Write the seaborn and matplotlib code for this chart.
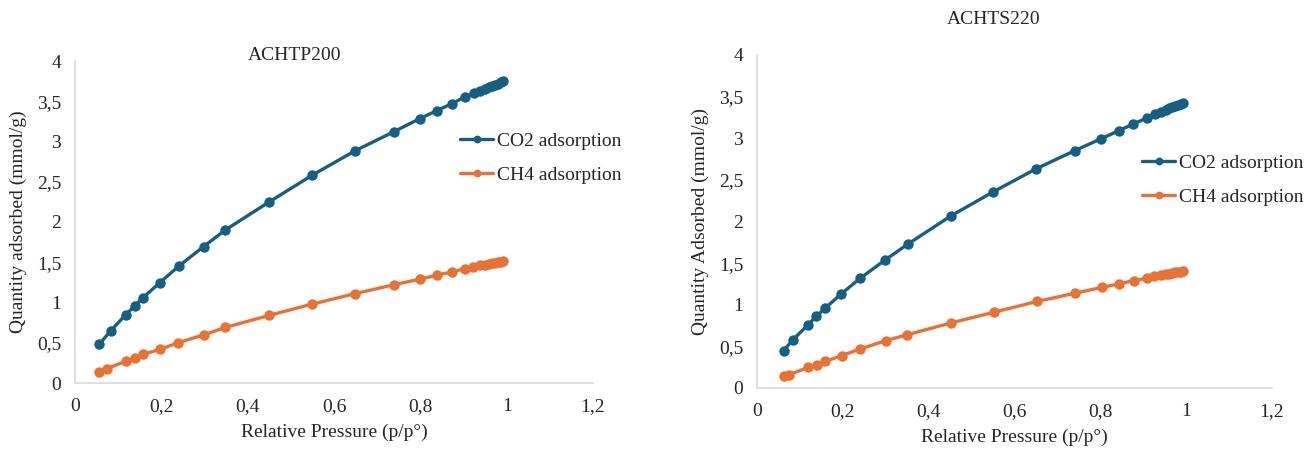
import matplotlib
matplotlib.use("Agg")
import matplotlib.pyplot as plt
import seaborn as sns
import pandas as pd

# ---------------- data ----------------
TITLES = ["ACHTP200", "ACHTS220"]
YLABELS = ["Quantity adsorbed (mmol/g)", "Quantity Adsorbed (mmol/g)"]
XLABEL = "Relative Pressure (p/p°)"
SERIES = ["CO2 adsorption", "CH4 adsorption"]

P_CO2_L = [0.056, 0.083, 0.117, 0.138, 0.158, 0.196, 0.240, 0.298, 0.348, 0.450, 0.549, 0.649, 0.738,
           0.799, 0.839, 0.873, 0.903, 0.924, 0.938, 0.950, 0.960, 0.967, 0.974, 0.980, 0.986, 0.992]
CO2_L = [0.48, 0.65, 0.845, 0.955, 1.06, 1.245, 1.45, 1.695, 1.90, 2.25, 2.58, 2.885, 3.12,
         3.285, 3.385, 3.47, 3.555, 3.60, 3.63, 3.655, 3.675, 3.69, 3.705, 3.72, 3.735, 3.75]
P_CH4_L = [0.056, 0.074, 0.118, 0.139, 0.158, 0.198, 0.239, 0.299, 0.348, 0.450, 0.549, 0.649, 0.738,
           0.799, 0.839, 0.873, 0.903, 0.922, 0.938, 0.950, 0.960, 0.967, 0.974, 0.980, 0.986, 0.992]
CH4_L = [0.135, 0.18, 0.27, 0.31, 0.355, 0.42, 0.50, 0.60, 0.69, 0.84, 0.98, 1.11, 1.22,
         1.29, 1.34, 1.38, 1.42, 1.445, 1.46, 1.47, 1.48, 1.487, 1.494, 1.50, 1.505, 1.51]

P_CO2_R = [0.062, 0.084, 0.119, 0.138, 0.158, 0.196, 0.241, 0.299, 0.352, 0.451, 0.550, 0.651, 0.740,
           0.802, 0.843, 0.876, 0.909, 0.928, 0.941, 0.952, 0.961, 0.968, 0.975, 0.981, 0.987, 0.993]
CO2_R = [0.45, 0.58, 0.76, 0.86, 0.955, 1.13, 1.32, 1.54, 1.73, 2.065, 2.355, 2.635, 2.85,
         2.995, 3.09, 3.17, 3.245, 3.29, 3.32, 3.34, 3.36, 3.375, 3.39, 3.40, 3.41, 3.42]
P_CH4_R = [0.064, 0.075, 0.120, 0.140, 0.159, 0.198, 0.241, 0.301, 0.350, 0.451, 0.552, 0.653, 0.742,
           0.805, 0.843, 0.878, 0.909, 0.926, 0.941, 0.952, 0.961, 0.968, 0.975, 0.981, 0.987, 0.993]
CH4_R = [0.14, 0.16, 0.25, 0.28, 0.32, 0.39, 0.47, 0.57, 0.64, 0.78, 0.91, 1.04, 1.14,
         1.21, 1.25, 1.29, 1.32, 1.34, 1.355, 1.365, 1.375, 1.382, 1.389, 1.394, 1.398, 1.40]

X_TICKS = [0, 0.2, 0.4, 0.6, 0.8, 1.0, 1.2]
X_TICKLABELS = ["0", "0,2", "0,4", "0,6", "0,8", "1", "1,2"]
Y_TICKS = [0, 0.5, 1, 1.5, 2, 2.5, 3, 3.5, 4]
Y_TICKLABELS = ["0", "0,5", "1", "1,5", "2", "2,5", "3", "3,5", "4"]

COLORS = {"CO2 adsorption": "#156082", "CH4 adsorption": "#E97132"}


def make_df(p1, v1, p2, v2):
    return pd.concat([
        pd.DataFrame({"p": p1, "q": v1, "series": SERIES[0]}),
        pd.DataFrame({"p": p2, "q": v2, "series": SERIES[1]}),
    ], ignore_index=True)


dfs = [make_df(P_CO2_L, CO2_L, P_CH4_L, CH4_L), make_df(P_CO2_R, CO2_R, P_CH4_R, CH4_R)]

# ---------------- style ----------------
sns.set_style("white")
plt.rcParams["font.family"] = ["Liberation Serif", "DejaVu Serif"]
FS = 14
GRAY = "#d9d9d9"

W, H = 1306, 449
fig = plt.figure(figsize=(W / 100, H / 100), dpi=100)

# axes placements in pixels: (x0, x1 [value 1.2], y0 [value 0], y1 [value 4])
boxes = [(75, 593, 383, 61), (757, 1272, 388, 55)]
titles_pos = [(295, 55), (994, 20)]
legend_pos = [(460, 132), (1142, 154)]
ylabel_x = [18, 700]

for i, df in enumerate(dfs):
    x0, x1, y0, y1 = boxes[i]
    ax = fig.add_axes([x0 / W, 1 - y0 / H, (x1 - x0) / W, (y0 - y1) / H])
    sns.lineplot(data=df, x="p", y="q", hue="series", hue_order=SERIES, palette=COLORS,
                 sort=False, estimator=None, marker="o", markersize=7.5,
                 markeredgewidth=0, linewidth=2.4, ax=ax, legend=True)
    ax.set_xlim(0, 1.2)
    ax.set_ylim(0, 4)
    ax.set_xticks(X_TICKS)
    ax.set_xticklabels(X_TICKLABELS, fontsize=FS)
    ax.set_yticks(Y_TICKS)
    ax.set_yticklabels(Y_TICKLABELS, fontsize=FS)
    ax.tick_params(axis="both", length=0)
    ax.tick_params(axis="x", pad=11)
    ax.tick_params(axis="y", pad=10)
    for s in ["top", "right"]:
        ax.spines[s].set_visible(False)
    for s in ["left", "bottom"]:
        ax.spines[s].set_color(GRAY)
        ax.spines[s].set_linewidth(1.2)
    ax.set_xlabel(XLABEL, fontsize=FS, labelpad=6)
    ax.set_ylabel("")
    fig.text(ylabel_x[i] / W, 1 - ((y0 + y1) / 2) / H, YLABELS[i], rotation=90,
             ha="center", va="center", fontsize=FS)
    tx, ty = titles_pos[i]
    fig.text(tx / W, 1 - ty / H, TITLES[i], ha="center", va="center", fontsize=FS)
    lx, ly = legend_pos[i]
    handles, labels = ax.get_legend_handles_labels()
    ax.legend(handles, labels, loc="upper left", bbox_to_anchor=(lx / W, 1 - ly / H),
              bbox_transform=fig.transFigure, frameon=False, fontsize=FS,
              handlelength=1.7, handletextpad=0.2, labelspacing=0.85,
              borderaxespad=0, borderpad=0, markerscale=0.75)
    ax.set_facecolor("white")

fig.savefig("out.png", dpi=100, facecolor="white")
